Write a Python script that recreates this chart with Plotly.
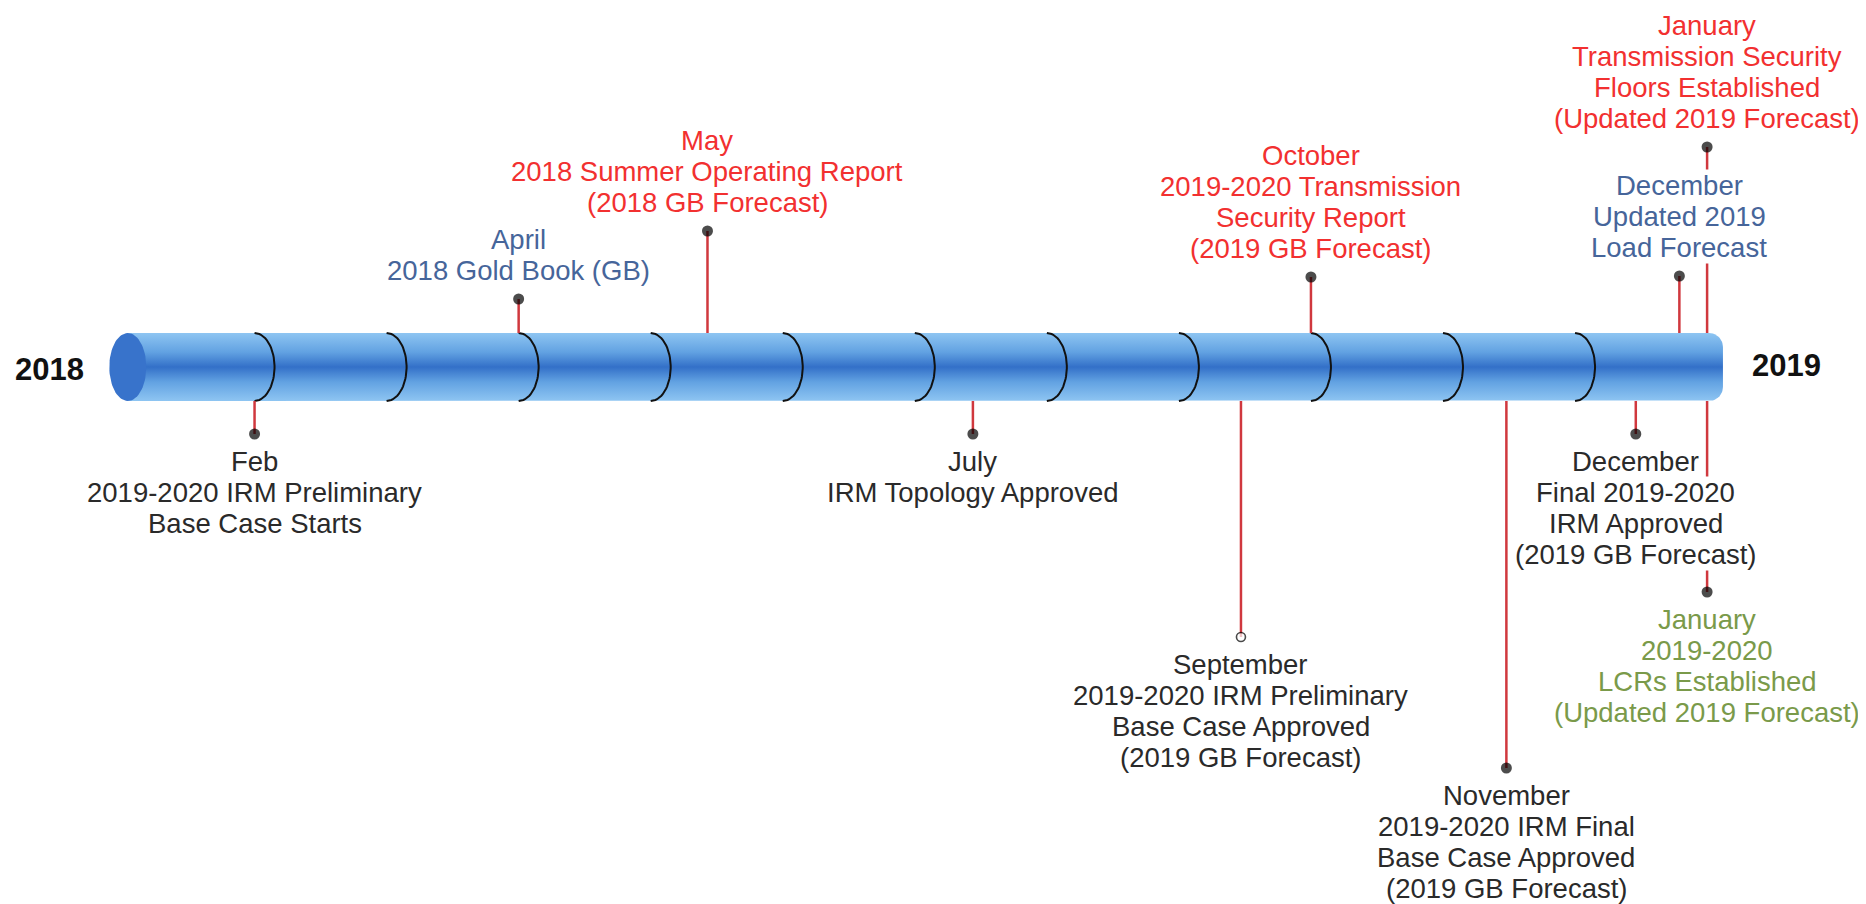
import numpy as np
import plotly.graph_objects as go

# ---------------- data ----------------
# months counted from January 2018 (0) to January 2019 (12)
event_months = [1.0, 3.0, 4.43, 6.44, 8.47, 9.0, 10.48, 11.46, 11.79, 12.0, 12.0]
event_titles = ["Feb", "April", "May", "July", "September", "October",
                "November", "December", "December", "January", "January"]
event_details = [
    ["2019-2020 IRM Preliminary", "Base Case Starts"],
    ["2018 Gold Book (GB)"],
    ["2018 Summer Operating Report", "(2018 GB Forecast)"],
    ["IRM Topology Approved"],
    ["2019-2020 IRM Preliminary", "Base Case Approved", "(2019 GB Forecast)"],
    ["2019-2020 Transmission", "Security Report", "(2019 GB Forecast)"],
    ["2019-2020 IRM Final", "Base Case Approved", "(2019 GB Forecast)"],
    ["Final 2019-2020", "IRM Approved", "(2019 GB Forecast)"],
    ["Updated 2019", "Load Forecast"],
    ["Transmission Security", "Floors Established", "(Updated 2019 Forecast)"],
    ["2019-2020", "LCRs Established", "(Updated 2019 Forecast)"],
]
# stem level (positive = above the timeline, negative = below)
event_levels = [-67, 68, 136, -67, -270, 90, -401, -67, 91, 220, -225]
event_kinds = ["irm", "forecast", "security", "irm", "irm", "security",
               "irm", "irm", "forecast", "security", "lcr"]
event_open_marker = [False, False, False, False, True, False,
                     False, False, False, False, False]
month_boundaries = [1, 2, 3, 4, 5, 6, 7, 8, 9, 10, 11]
year_labels = ["2018", "2019"]

# ---------------- styles ----------------
KIND_COLORS = {"irm": "#2A2A2A", "forecast": "#46659A",
               "security": "#F23030", "lcr": "#7A9A4A"}
FONT = "Liberation Sans, Arial, sans-serif"
FS = 27.5
LINE_GAP = 31
PAGE_OFF = 8  # default page body margin in the browser
PX_PER_MONTH = 132.05
X_ORIGIN_PX = 122.5
X_MIN = (PAGE_OFF - X_ORIGIN_PX) / PX_PER_MONTH
X_MAX = (1866 - X_ORIGIN_PX) / PX_PER_MONTH
Y_CENTER_PX = 367
Y_MIN, Y_MAX = -(904 - Y_CENTER_PX), Y_CENTER_PX - PAGE_OFF
HALF_H = 34
CYL_START, CYL_END = 0.04, 12.12
STEM_COLOR = "#D0383E"

fig = go.Figure()

# cylinder body with rounded right end
r_px = 14
rx = r_px / PX_PER_MONTH
t1 = np.linspace(-np.pi / 2, 0, 12)
t2 = np.linspace(0, np.pi / 2, 12)
bx = np.concatenate([[CYL_START], (CYL_END - rx) + rx * np.cos(t1),
                     (CYL_END - rx) + rx * np.cos(t2), [CYL_START]])
by = np.concatenate([[-HALF_H], (-HALF_H + r_px) + r_px * np.sin(t1),
                     (HALF_H - r_px) + r_px * np.sin(t2), [HALF_H]])
fig.add_trace(go.Scatter(
    x=bx, y=by, mode="lines", fill="toself", line=dict(width=0),
    fillcolor="#4C8BD8",
    fillgradient=dict(type="vertical", start=-HALF_H, stop=HALF_H,
                      colorscale=[[0, "#8EC5F2"], [0.28, "#62A2E2"],
                                  [0.5, "#3370C8"], [0.72, "#62A2E2"],
                                  [1, "#8EC5F2"]]),
    hoverinfo="skip"))

# left cap ellipse
th = np.linspace(0, 2 * np.pi, 80)
cap_rx = 18.5 / PX_PER_MONTH
fig.add_trace(go.Scatter(
    x=CYL_START + cap_rx * np.cos(th), y=HALF_H * np.sin(th),
    mode="lines", fill="toself", fillcolor="#3873CB", line=dict(width=0),
    hoverinfo="skip"))

# month rings
ring_rx = 20 / PX_PER_MONTH
ta = np.linspace(-np.pi / 2, np.pi / 2, 40)
rxs, rys = [], []
for m in month_boundaries:
    rxs += list(m + ring_rx * np.cos(ta)) + [None]
    rys += list(HALF_H * np.sin(ta)) + [None]
fig.add_trace(go.Scatter(x=rxs, y=rys, mode="lines",
                         line=dict(color="#111111", width=2), hoverinfo="skip"))

# stems
sx, sy = [], []
for m, lv in zip(event_months, event_levels):
    edge = HALF_H if lv > 0 else -HALF_H
    sx += [m, m, None]
    sy += [edge, lv, None]
fig.add_trace(go.Scatter(x=sx, y=sy, mode="lines",
                         line=dict(color=STEM_COLOR, width=2.5), hoverinfo="skip"))

# dots
fig.add_trace(go.Scatter(
    x=event_months, y=event_levels, mode="markers",
    marker=dict(size=[9 if o else 11 for o in event_open_marker],
                color=["white" if o else "black" for o in event_open_marker],
                line=dict(color="black", width=[1.6 if o else 0 for o in event_open_marker])),
    hoverinfo="skip"))

# labels (one annotation per line, white background so stems pass behind)
annotations = []
for m, title, det, lv, kind in zip(event_months, event_titles, event_details,
                                   event_levels, event_kinds):
    lines = [title] + det
    n = len(lines)
    if lv > 0:
        ys = [lv + 29 + (n - 1 - i) * LINE_GAP for i in range(n)]
    else:
        ys = [lv - 27 - i * LINE_GAP for i in range(n)]
    # draw lower lines first so upper line backgrounds never clip descenders
    order = sorted(range(n), key=lambda i: ys[i])
    for i in order:
        annotations.append(dict(
            x=m, y=ys[i], xref="x", yref="y", text=lines[i], showarrow=False,
            xanchor="center", yanchor="middle", bgcolor="white", borderpad=0,
            font=dict(family=FONT, size=FS, color=KIND_COLORS[kind])))

# year labels
for txt, xp, yv in zip(year_labels, [-0.55, 12.6], [-2, 2]):
    annotations.append(dict(
        x=xp, y=yv, xref="x", yref="y", text="<b>%s</b>" % txt, showarrow=False,
        xanchor="center", yanchor="middle",
        font=dict(family=FONT, size=31, color="#111111")))

fig.update_layout(
    width=1866 - PAGE_OFF, height=904 - PAGE_OFF,
    margin=dict(l=0, r=0, t=0, b=0),
    paper_bgcolor="white", plot_bgcolor="white",
    showlegend=False,
    xaxis=dict(range=[X_MIN, X_MAX], visible=False, fixedrange=True),
    yaxis=dict(range=[Y_MIN, Y_MAX], visible=False, fixedrange=True),
    annotations=annotations,
)

fig.write_html("out.html")
